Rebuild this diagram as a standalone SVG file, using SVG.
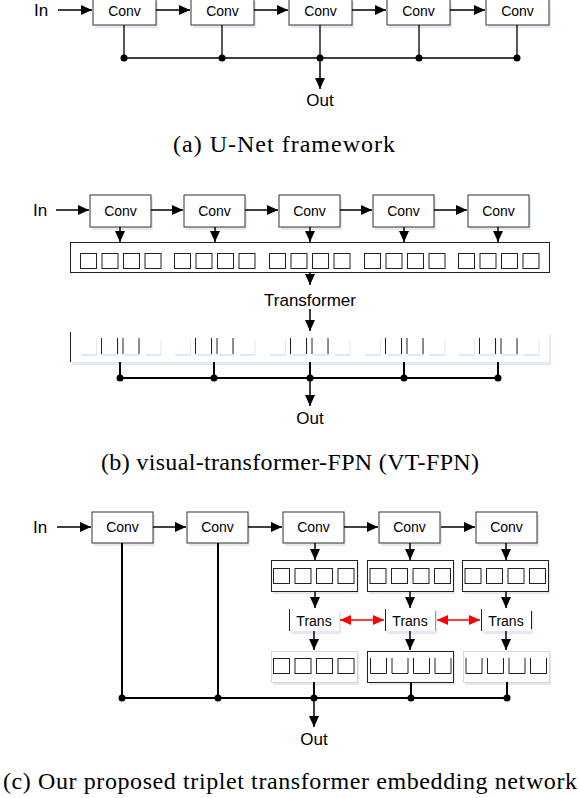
<svg xmlns="http://www.w3.org/2000/svg" width="580" height="798" viewBox="0 0 580 798">
<style>
.box{fill:#fff;stroke:#333;stroke-width:1}
.sh{fill:#e1e9f3}
.tok{fill:#fff;stroke:#222;stroke-width:1}
.ctn{fill:#fff;stroke:#222;stroke-width:1}
.ctl{fill:#fff;stroke:#d8d8d8;stroke-width:1}
.lbl{font-family:"Liberation Sans",Arial,sans-serif;fill:#000;text-anchor:middle}
.cap{font-family:"Liberation Serif","Times New Roman",serif;font-size:24px;fill:#000;text-anchor:middle}
.ar{stroke:#000;stroke-width:1.5;fill:none;marker-end:url(#ah)}
.bus{stroke:#000;stroke-width:2;fill:none}
.ln{stroke:#000;stroke-width:1.3;fill:none}
.rd{stroke:#f00;stroke-width:1.5;fill:none;marker-start:url(#rs);marker-end:url(#re)}
.v{stroke:#222;stroke-width:1}
</style>
<defs>
<marker id="ah" markerUnits="userSpaceOnUse" markerWidth="12" markerHeight="10" refX="11" refY="5" orient="auto"><path d="M0,0 L11,5 L0,10 Z" fill="#000"/></marker>
<marker id="re" markerUnits="userSpaceOnUse" markerWidth="12" markerHeight="10" refX="11" refY="5" orient="auto"><path d="M0,0 L11,5 L0,10 Z" fill="#f00"/></marker>
<marker id="rs" markerUnits="userSpaceOnUse" markerWidth="12" markerHeight="10" refX="0" refY="5" orient="auto"><path d="M11,0 L0,5 L11,10 Z" fill="#f00"/></marker>
<g id="tok4">
<rect class="tok" x="0" y="0" width="16" height="15"/>
<rect class="tok" x="21.5" y="0" width="16" height="15"/>
<rect class="tok" x="43" y="0" width="16" height="15"/>
<rect class="tok" x="64.5" y="0" width="16" height="15"/>
</g>
<g id="tokL">
<rect class="sh" x="1" y="2" width="16" height="16"/><rect fill="#fff" x="0" y="0" width="16" height="16"/>
<rect class="sh" x="22.5" y="2" width="16" height="16"/><rect fill="#fff" x="21.5" y="0" width="16" height="16"/>
<rect class="sh" x="44" y="2" width="16" height="16"/><rect fill="#fff" x="43" y="0" width="16" height="16"/>
<rect class="sh" x="65.5" y="2" width="16" height="16"/><rect fill="#fff" x="64.5" y="0" width="16" height="16"/>
<path class="v" d="M21.5,0V16M37.5,0V16M43,0V16M59,0V16"/>
</g>
<g id="tokU">
<path class="v" fill="none" d="M0.5,0V15.5H16.5V0M22,0V15.5H38V0M43.5,0V15.5H59.5V0M65,0V15.5H81V0"/>
</g>
</defs>

<!-- (a) -->
<g id="a-in"><text class="lbl" x="41" y="16" font-size="17">In</text></g>
<g id="a-conv1"><rect class="sh" x="95" y="1" width="63" height="27"/><rect class="box" x="93" y="-1" width="63" height="26"/><text class="lbl" x="124.5" y="16" font-size="14">Conv</text></g>
<g id="a-conv2"><rect class="sh" x="193" y="1" width="63" height="27"/><rect class="box" x="191" y="-1" width="63" height="26"/><text class="lbl" x="222.5" y="16" font-size="14">Conv</text></g>
<g id="a-conv3"><rect class="sh" x="291" y="1" width="63" height="27"/><rect class="box" x="289" y="-1" width="63" height="26"/><text class="lbl" x="320.5" y="16" font-size="14">Conv</text></g>
<g id="a-conv4"><rect class="sh" x="389" y="1" width="63" height="27"/><rect class="box" x="387" y="-1" width="63" height="26"/><text class="lbl" x="418.5" y="16" font-size="14">Conv</text></g>
<g id="a-conv5"><rect class="sh" x="488" y="1" width="63" height="27"/><rect class="box" x="486" y="-1" width="63" height="26"/><text class="lbl" x="517.5" y="16" font-size="14">Conv</text></g>
<g id="a-out"><text class="lbl" x="320" y="106" font-size="17">Out</text></g>
<g id="a-connectors">
<path class="ar" d="M58,10H92"/>
<path class="ar" d="M156,10H190"/>
<path class="ar" d="M254,10H288"/>
<path class="ar" d="M352,10H386"/>
<path class="ar" d="M450,10H485"/>
<path class="ln" d="M124,25V58M222,25V58M320,25V58M419,25V58M517,25V58M124,58H517"/>
<path class="ar" d="M320,58V89"/>
<circle cx="124" cy="58" r="3.5"/><circle cx="222" cy="58" r="3.5"/><circle cx="320" cy="58" r="3.5"/><circle cx="419" cy="58" r="3.5"/><circle cx="517" cy="58" r="3.5"/>
</g>
<text class="cap" x="284" y="152" textLength="222">(a) U-Net framework</text>

<!-- (b) -->
<g id="b-in"><text class="lbl" x="40" y="216" font-size="17">In</text></g>
<g id="b-conv1"><rect class="sh" x="92" y="197" width="61" height="33"/><rect class="box" x="90" y="195" width="61" height="32"/><text class="lbl" x="120.5" y="216" font-size="14">Conv</text></g>
<g id="b-conv2"><rect class="sh" x="186" y="197" width="61" height="33"/><rect class="box" x="184" y="195" width="61" height="32"/><text class="lbl" x="214.5" y="216" font-size="14">Conv</text></g>
<g id="b-conv3"><rect class="sh" x="281" y="197" width="61" height="33"/><rect class="box" x="279" y="195" width="61" height="32"/><text class="lbl" x="309.5" y="216" font-size="14">Conv</text></g>
<g id="b-conv4"><rect class="sh" x="375" y="197" width="61" height="33"/><rect class="box" x="373" y="195" width="61" height="32"/><text class="lbl" x="403.5" y="216" font-size="14">Conv</text></g>
<g id="b-conv5"><rect class="sh" x="470" y="197" width="61" height="33"/><rect class="box" x="468" y="195" width="61" height="32"/><text class="lbl" x="498.5" y="216" font-size="14">Conv</text></g>
<g id="b-tokens1">
<rect class="ctn" x="70.5" y="242.5" width="479" height="30"/>
<use href="#tok4" x="80.5" y="253.5"/>
<use href="#tok4" x="174.5" y="253.5"/>
<use href="#tok4" x="269.5" y="253.5"/>
<use href="#tok4" x="364.5" y="253.5"/>
<use href="#tok4" x="458.5" y="253.5"/>
</g>
<g id="b-transformer"><text class="lbl" x="310" y="306" font-size="17">Transformer</text></g>
<g id="b-tokens2">
<rect class="sh" x="72" y="335" width="479" height="30"/>
<rect fill="#fff" x="70" y="332" width="479" height="30"/>
<path class="v" d="M70.5,332V362"/>
<use href="#tokL" x="80" y="338"/>
<use href="#tokL" x="174" y="338"/>
<use href="#tokL" x="269" y="338"/>
<use href="#tokL" x="364" y="338"/>
<use href="#tokL" x="458" y="338"/>
</g>
<g id="b-out"><text class="lbl" x="310" y="424" font-size="17">Out</text></g>
<g id="b-connectors">
<path class="ar" d="M56,210H89"/>
<path class="ar" d="M151,210H183"/>
<path class="ar" d="M245,210H278"/>
<path class="ar" d="M340,210H372"/>
<path class="ar" d="M434,210H467"/>
<path class="ar" d="M120,227V242"/>
<path class="ar" d="M215,227V242"/>
<path class="ar" d="M310,227V242"/>
<path class="ar" d="M404,227V242"/>
<path class="ar" d="M498,227V242"/>
<path class="ar" d="M310,272V285"/>
<path class="ar" d="M310,309V331"/>
<path class="bus" d="M120,362V378M214,362V378M310,362V378M404,362V378M498,362V378M120,378H498"/>
<path class="ar" d="M310,378V406"/>
<circle cx="120" cy="378" r="3.5"/><circle cx="214" cy="378" r="3.5"/><circle cx="310" cy="378" r="3.5"/><circle cx="404" cy="378" r="3.5"/><circle cx="498" cy="378" r="3.5"/>
</g>
<text class="cap" x="290" y="470" textLength="378">(b) visual-transformer-FPN (VT-FPN)</text>

<!-- (c) -->
<g id="c-in"><text class="lbl" x="40" y="533" font-size="17">In</text></g>
<g id="c-conv1"><rect class="sh" x="94" y="514" width="61" height="32"/><rect class="box" x="92" y="512" width="61" height="31"/><text class="lbl" x="122.5" y="532" font-size="14">Conv</text></g>
<g id="c-conv2"><rect class="sh" x="189" y="514" width="61" height="32"/><rect class="box" x="187" y="512" width="61" height="31"/><text class="lbl" x="217.5" y="532" font-size="14">Conv</text></g>
<g id="c-conv3"><rect class="sh" x="285" y="514" width="61" height="32"/><rect class="box" x="283" y="512" width="61" height="31"/><text class="lbl" x="313.5" y="532" font-size="14">Conv</text></g>
<g id="c-conv4"><rect class="sh" x="381" y="514" width="61" height="32"/><rect class="box" x="379" y="512" width="61" height="31"/><text class="lbl" x="409.5" y="532" font-size="14">Conv</text></g>
<g id="c-conv5"><rect class="sh" x="478" y="514" width="61" height="32"/><rect class="box" x="476" y="512" width="61" height="31"/><text class="lbl" x="506.5" y="532" font-size="14">Conv</text></g>
<g id="c-tokA1"><rect class="sh" x="273" y="563" width="86" height="31"/><rect class="ctn" x="271.5" y="560.5" width="86" height="31"/><use href="#tok4" x="273.5" y="568.5"/></g>
<g id="c-tokA2"><rect class="sh" x="369" y="563" width="86" height="31"/><rect class="ctn" x="367.5" y="560.5" width="86" height="31"/><use href="#tok4" x="370" y="568.5"/></g>
<g id="c-tokA3"><rect class="sh" x="464" y="563" width="86" height="31"/><rect class="ctn" x="462.5" y="560.5" width="86" height="31"/><use href="#tok4" x="465" y="568.5"/></g>
<g id="c-trans1"><rect class="sh" x="291" y="611" width="50" height="23"/><rect fill="#fff" x="289" y="609" width="50" height="22"/><path class="v" d="M289.5,609V631"/><text class="lbl" x="314" y="626" font-size="14">Trans</text></g>
<g id="c-trans2"><rect class="sh" x="387" y="611" width="50" height="23"/><rect fill="#fff" x="385" y="609" width="50" height="22"/><path class="v" d="M385.5,609V631"/><path stroke="#999" d="M435.5,611V631"/><text class="lbl" x="410" y="626" font-size="14">Trans</text></g>
<g id="c-trans3"><rect class="sh" x="483" y="611" width="50" height="23"/><rect fill="#fff" x="481" y="609" width="50" height="22"/><path class="v" d="M481.5,609V631M531.5,611V629"/><text class="lbl" x="506" y="626" font-size="14">Trans</text></g>
<g id="c-tokB1"><rect class="sh" x="273" y="654" width="86" height="31"/><rect class="ctl" x="271.5" y="651.5" width="86" height="31"/><use href="#tok4" x="273.5" y="658.5"/></g>
<g id="c-tokB2"><rect class="sh" x="369" y="654" width="86" height="31"/><rect class="ctn" x="367.5" y="651.5" width="86" height="31"/><use href="#tokU" x="370" y="658"/></g>
<g id="c-tokB3"><rect class="sh" x="465" y="654" width="86" height="31"/><rect class="ctl" x="463.5" y="651.5" width="86" height="31"/><use href="#tokU" x="465.5" y="658"/></g>
<g id="c-out"><text class="lbl" x="314" y="745" font-size="17">Out</text></g>
<g id="c-connectors">
<path class="ar" d="M57,527H91"/>
<path class="ar" d="M153,527H186"/>
<path class="ar" d="M248,527H282"/>
<path class="ar" d="M344,527H378"/>
<path class="ar" d="M441,527H475"/>
<path class="ar" d="M315,543V560"/>
<path class="ar" d="M410,543V560"/>
<path class="ar" d="M506,543V560"/>
<path class="ar" d="M315,591V608"/>
<path class="ar" d="M410,591V608"/>
<path class="ar" d="M506,591V608"/>
<path class="rd" d="M340,620H384"/>
<path class="rd" d="M437,620H480"/>
<path class="ar" d="M314,631V650"/>
<path class="ar" d="M410,631V650"/>
<path class="ar" d="M506,631V650"/>
<path class="bus" d="M122,543V698M218,543V698M314,682V698M411,682V698M507,682V698M122,698H507"/>
<path class="ar" d="M314,698V727"/>
<circle cx="122" cy="698" r="3.5"/><circle cx="218" cy="698" r="3.5"/><circle cx="314" cy="698" r="3.5"/><circle cx="411" cy="698" r="3.5"/><circle cx="507" cy="698" r="3.5"/>
</g>
<text class="cap" x="290" y="789" textLength="574">(c) Our proposed triplet transformer embedding network</text>
</svg>
